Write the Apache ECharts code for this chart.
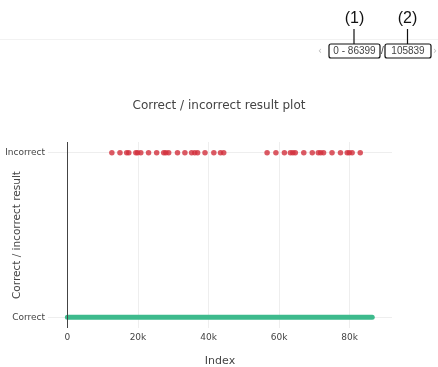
<!DOCTYPE html>
<html>
<head>
<meta charset="utf-8">
<script src="https://cdn.jsdelivr.net/npm/echarts@6/dist/echarts.min.js"></script>
<style>
  html, body { margin: 0; padding: 0; background: #fff; }
  #chart { width: 438px; height: 367px; }
</style>
</head>
<body>
<div id="chart"></div>
<script>
// Result classes shown on the y axis (0 = Correct, 1 = Incorrect)
const resultClasses = ['Correct', 'Incorrect'];

// Index range of the correct results
const correctRange = [0, 86399];

// Indices that produced an incorrect result
const incorrectIndices = [
  12600, 14900, 16800, 17400, 19400, 19900, 20800, 23000, 25300,
  27300, 27900, 28700, 31200, 33300, 35200, 36100, 36900, 39000,
  41500, 43400, 44300,
  56600, 59100, 61500, 63200, 63900, 64600, 67000, 69400, 71100,
  71800, 72600, 75000, 77400, 79300, 79900, 80700, 83000
];

// Tick values on the index axis
const indexTicks = [0, 20000, 40000, 60000, 80000];

// Page range / total record count shown in the pager
const pageRangeText = '0 - 86399';
const totalCountText = '105839';

const FONT = 'DejaVu Sans, Verdana, sans-serif';
const TXT = '#444';

const chart = echarts.init(document.getElementById('chart'), null, { renderer: 'canvas' });

const option = {
  animation: false,
  backgroundColor: '#fff',
  title: {
    text: 'Correct / incorrect result plot',
    left: 'center',
    top: 95,
    textStyle: { fontFamily: FONT, fontSize: 12, fontWeight: 'normal', color: TXT }
  },
  grid: { left: 48, right: 46, top: 142, bottom: 39, containLabel: false, outerBoundsMode: 'none' },
  xAxis: {
    type: 'value',
    min: -5500,
    max: 92000,
    name: 'Index',
    nameLocation: 'middle',
    nameGap: 28,
    nameMoveOverlap: false,
    nameTextStyle: { fontFamily: FONT, fontSize: 11, color: TXT },
    axisLine: { show: false },
    axisTick: { show: false, customValues: indexTicks },
    axisLabel: {
      customValues: indexTicks,
      margin: 5,
      fontFamily: FONT, fontSize: 9, color: TXT,
      formatter: v => (v === 0 ? '0' : (v / 1000) + 'k')
    },
    splitLine: { show: true, lineStyle: { color: '#eee', width: 1 } }
  },
  yAxis: {
    type: 'value',
    min: -0.065,
    max: 1.065,
    name: 'Correct / incorrect result',
    nameLocation: 'middle',
    nameRotate: 90,
    nameGap: 25,
    nameMoveOverlap: false,
    nameTextStyle: { fontFamily: FONT, fontSize: 10.5, color: TXT },
    axisLine: { show: false },
    axisTick: { show: false, customValues: [0, 1] },
    axisLabel: {
      customValues: [0, 1],
      margin: 3,
      fontFamily: FONT, fontSize: 9, color: TXT,
      formatter: v => resultClasses[Math.round(v)]
    },
    splitLine: { show: true, lineStyle: { color: '#eee', width: 1 } }
  },
  graphic: [
    // divider under the pager header
    { type: 'rect', shape: { x: 0, y: 39, width: 438, height: 1 }, style: { fill: '#f2f2f2' }, silent: true },
    // pager arrows
    { type: 'text', x: 320, y: 51, style: { text: '‹', fill: '#bbb', font: '10px ' + FONT, align: 'center', verticalAlign: 'middle' } },
    { type: 'text', x: 435, y: 51, style: { text: '›', fill: '#bbb', font: '10px ' + FONT, align: 'center', verticalAlign: 'middle' } },
    // page range box
    { type: 'rect', shape: { x: 329, y: 44, width: 51, height: 14, r: 2 }, style: { fill: 'none', stroke: '#111', lineWidth: 1.2 } },
    { type: 'text', x: 354.5, y: 51.5, style: { text: pageRangeText, fill: TXT, font: '10px Liberation Sans, Arial, sans-serif', align: 'center', verticalAlign: 'middle' } },
    { type: 'text', x: 382.5, y: 51.5, style: { text: '/', fill: TXT, font: '10px Liberation Sans, Arial, sans-serif', align: 'center', verticalAlign: 'middle' } },
    // total count box
    { type: 'rect', shape: { x: 385, y: 44, width: 46, height: 14, r: 2 }, style: { fill: 'none', stroke: '#111', lineWidth: 1.2 } },
    { type: 'text', x: 408, y: 51.5, style: { text: totalCountText, fill: TXT, font: '10px Liberation Sans, Arial, sans-serif', align: 'center', verticalAlign: 'middle' } },
    // callout labels
    { type: 'text', x: 354.5, y: 19, style: { text: '(1)', fill: '#111', font: '16px Liberation Sans, Arial, sans-serif', align: 'center', verticalAlign: 'middle' } },
    { type: 'text', x: 407.5, y: 19, style: { text: '(2)', fill: '#111', font: '16px Liberation Sans, Arial, sans-serif', align: 'center', verticalAlign: 'middle' } },
    { type: 'line', shape: { x1: 354, y1: 29, x2: 354, y2: 44 }, style: { stroke: '#111', lineWidth: 1.2 } },
    { type: 'line', shape: { x1: 407.5, y1: 29, x2: 407.5, y2: 44 }, style: { stroke: '#111', lineWidth: 1.2 } }
  ],
  series: [
    {
      name: 'Correct',
      type: 'line',
      data: correctRange.map(i => [i, 0]),
      symbol: 'none',
      lineStyle: { color: '#3dba8c', width: 5, cap: 'round' },
      z: 3
    },
    {
      name: 'Incorrect',
      type: 'scatter',
      data: incorrectIndices.map(i => [i, 1]),
      symbol: 'circle',
      symbolSize: 5.5,
      itemStyle: { color: '#d2303c' },
      z: 4,
      markLine: {
        silent: true,
        symbol: 'none',
        label: { show: false },
        lineStyle: { color: '#444', width: 1, type: 'solid' },
        data: [{ xAxis: 0 }]
      }
    }
  ]
};

chart.setOption(option);
</script>
</body>
</html>
